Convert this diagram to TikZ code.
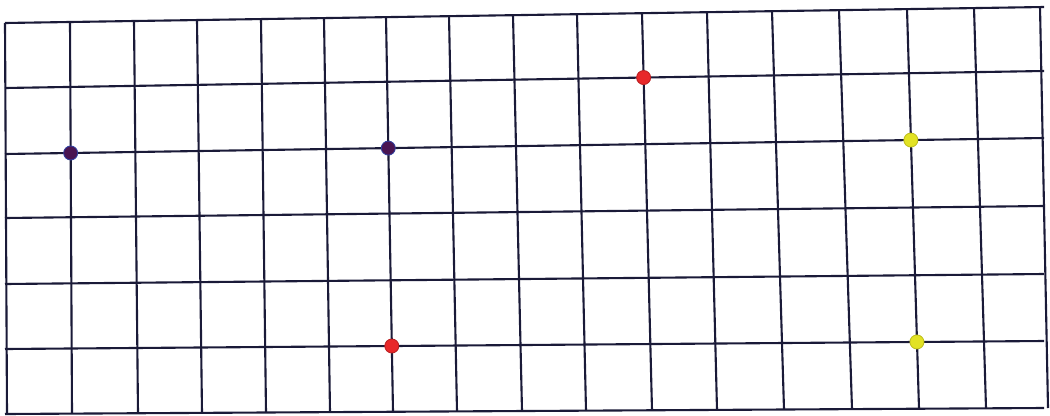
\documentclass[tikz,border=0pt]{standalone}
\definecolor{gridnavy}{HTML}{1A1A38}
\definecolor{dotpurple}{HTML}{4A1552}
\definecolor{dotrim}{HTML}{3040A0}
\definecolor{dotred}{HTML}{E8282A}
\definecolor{dotyellow}{HTML}{E2E224}
\begin{document}
\begin{tikzpicture}[x=0.025cm,y=-0.025cm,
    gridline/.style={draw=gridnavy,line width=1.5pt},
    gridpoint/.style={circle,inner sep=0pt,minimum size=0.35cm,line width=0.6pt}]
        \useasboundingbox (0,0) rectangle (1050,415);
        % bordes de la cuadricula (escaneada, algo torcida)
        \foreach \i/\xt/\xb in {0/5/7,1/70/72,2/134/138,3/197/202,4/261/266,5/324/330,6/386/393,7/449/457,8/513/522,9/577/586,10/642/652,11/707/717,12/772/784,13/839/852,14/907/919,15/974/986,16/1040/1048}{
            \coordinate (t\i) at (\xt,{23-16*\i/16});
            \coordinate (b\i) at (\xb,{414-6*\i/16});
        }
        \foreach \j/\yl/\yr in {0/23/7,1/88/71,2/154/138,3/218/206,4/284/274,5/349/341,6/414/408}{
            \coordinate (l\j) at (5,\yl);
            \coordinate (r\j) at (1044,\yr);
        }
        % lineas verticales
        \foreach \i in {0,...,16}
            \draw[gridline] (t\i) -- (b\i);
        % lineas horizontales
        \foreach \j in {0,...,6}
            \draw[gridline] (l\j) -- (r\j);
        % puntos
        \node[gridpoint,fill=dotpurple,draw=dotrim] (p1) at (intersection of t1--b1 and l2--r2) {};
        \node[gridpoint,fill=dotpurple,draw=dotrim] (p2) at (intersection of t6--b6 and l2--r2) {};
        \node[gridpoint,fill=dotred,draw=dotred!80!black] (p3) at (intersection of t10--b10 and l1--r1) {};
        \node[gridpoint,fill=dotred,draw=dotred!80!black] (p4) at (intersection of t6--b6 and l5--r5) {};
        \node[gridpoint,fill=dotyellow,draw=dotyellow!85!black] (p5) at (intersection of t14--b14 and l2--r2) {};
        \node[gridpoint,fill=dotyellow,draw=dotyellow!85!black] (p6) at (intersection of t14--b14 and l5--r5) {};
    \end{tikzpicture}
\end{document}
